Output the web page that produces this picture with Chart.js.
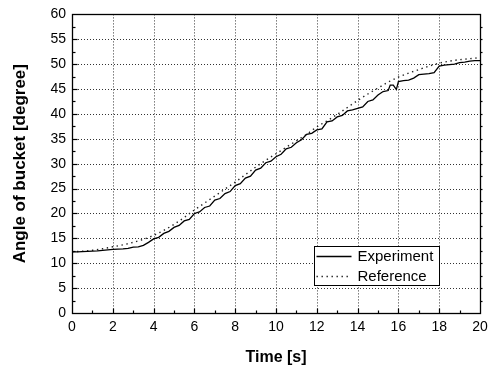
<!DOCTYPE html>
<html>
<head>
<meta charset="utf-8">
<script src="https://cdn.jsdelivr.net/npm/chart.js@4"></script>
<style>
html,body{margin:0;padding:0;background:#fff;}
#wrap{width:498px;height:367px;position:relative;}
</style>
</head>
<body>
<div id="wrap"><canvas id="c" width="498" height="367"></canvas></div>
<script>
// ---- data ----
const expTime = [0,0.25,0.5,0.75,1,1.25,1.5,1.75,2,2.25,2.5,2.75,3,3.25,3.5,3.75,4,4.25,4.5,4.75,5,5.25,5.5,5.75,6,6.25,6.5,6.75,7,7.25,7.5,7.75,8,8.25,8.5,8.75,9,9.25,9.5,9.75,10,10.25,10.5,10.75,11,11.25,11.5,11.75,12,12.25,12.5,12.75,13,13.25,13.5,13.75,14,14.25,14.5,14.75,15,15.25,15.5,15.6,15.75,15.9,16,16.25,16.5,16.75,17,17.25,17.5,17.75,18,18.25,18.5,18.75,19,19.25,19.5,19.75,20];
const expAngle = [12.30,12.30,12.35,12.40,12.45,12.50,12.60,12.70,12.80,12.85,12.90,13.00,13.25,13.30,13.60,14.20,14.90,15.20,16.00,16.40,17.20,17.60,18.50,18.80,20.00,20.30,21.20,21.50,22.70,23.00,24.00,24.40,25.60,26.00,27.10,27.50,28.70,29.10,30.20,30.50,31.40,31.90,33.00,33.30,34.20,34.80,35.90,36.10,36.80,37.00,38.40,38.60,39.40,39.70,40.60,40.80,41.10,41.40,42.50,42.80,43.80,44.50,44.70,45.80,45.80,44.90,46.50,46.70,46.80,47.20,47.90,48.00,48.10,48.30,49.60,49.80,49.90,50.00,50.30,50.40,50.60,50.70,50.70];
const refTime = [0,0.5,1,1.5,2,2.5,3,3.5,4,4.5,5,5.5,6,6.5,7,7.5,8,8.5,9,9.5,10,10.5,11,11.5,12,12.5,13,13.5,14,14.5,15,15.5,16,16.5,17,17.5,18,18.5,19,19.5,20];
const refAngle = [12.3,12.4,12.6,12.9,13.3,13.7,14.2,14.8,15.6,16.6,17.8,19.2,20.7,22.1,23.5,24.9,26.3,27.8,29.3,30.7,32.0,33.3,34.6,35.9,37.4,38.6,39.9,41.3,42.7,44.0,45.2,46.4,47.4,48.2,48.9,49.6,50.2,50.6,50.9,51.1,51.3];
const seriesNames = ["Experiment","Reference"];
const xTitle = "Time [s]";
const yTitle = "Angle of bucket [degree]";

const FONT = "'Liberation Sans', Arial, Helvetica, sans-serif";

const framePlugin = {
  id: 'frame',
  beforeDatasetsDraw(chart) {
    const {ctx, chartArea: a, scales: {x, y}} = chart;
    ctx.save();
    ctx.strokeStyle = '#333';
    ctx.lineWidth = 1;
    ctx.setLineDash([1, 2]);
    for (let v = 2; v < 20; v += 2) {
      const px = Math.round(x.getPixelForValue(v)) + 0.5;
      ctx.beginPath(); ctx.moveTo(px, a.top); ctx.lineTo(px, a.bottom); ctx.stroke();
    }
    for (let v = 5; v < 60; v += 5) {
      const py = Math.round(y.getPixelForValue(v)) + 0.5;
      ctx.beginPath(); ctx.moveTo(a.left, py); ctx.lineTo(a.right, py); ctx.stroke();
    }
    ctx.restore();
  },
  afterDatasetsDraw(chart) {
    const {ctx, chartArea: a, scales: {x, y}} = chart;
    const L = Math.round(a.left) + 0.5, R = Math.round(a.right) + 0.5;
    const T = Math.round(a.top) + 0.5, B = Math.round(a.bottom) + 0.5;
    ctx.save();
    ctx.strokeStyle = '#000';
    ctx.lineWidth = 1.3;
    ctx.setLineDash([]);
    ctx.strokeRect(L, T, R - L, B - T);
    ctx.lineWidth = 1.2;
    // bottom ticks (inward)
    for (let v = 1; v < 20; v += 1) {
      const px = Math.round(x.getPixelForValue(v)) + 0.5;
      const len = (v % 2 === 0) ? 5 : 3;
      ctx.beginPath(); ctx.moveTo(px, B); ctx.lineTo(px, B - len); ctx.stroke();
    }
    // left ticks (inward)
    for (let v = 2.5; v < 60; v += 2.5) {
      const py = Math.round(y.getPixelForValue(v)) + 0.5;
      const len = (v % 5 === 0) ? 5 : 3;
      ctx.beginPath(); ctx.moveTo(L, py); ctx.lineTo(L + len, py); ctx.stroke();
    }
    // right ticks (small, outward)
    for (let v = 2.5; v < 60; v += 2.5) {
      const py = Math.round(y.getPixelForValue(v)) + 0.5;
      ctx.beginPath(); ctx.moveTo(R, py); ctx.lineTo(R + 2, py); ctx.stroke();
    }
    // legend box
    const bx = 314.5, by = 246.5, bw = 125, bh = 39;
    ctx.fillStyle = '#fff';
    ctx.fillRect(bx, by, bw, bh);
    ctx.lineWidth = 1;
    ctx.strokeRect(bx, by, bw, bh);
    const ds = chart.data.datasets;
    const rows = [256, 276];
    ds.forEach((d, i) => {
      ctx.strokeStyle = d.borderColor;
      ctx.lineWidth = d.borderWidth;
      ctx.setLineDash(d.borderDash || []);
      ctx.beginPath(); ctx.moveTo(bx + 2, rows[i] + 0.5); ctx.lineTo(bx + 37, rows[i] + 0.5); ctx.stroke();
      ctx.setLineDash([]);
      ctx.fillStyle = '#000';
      ctx.font = '15px ' + FONT;
      ctx.textBaseline = 'middle';
      ctx.textAlign = 'left';
      ctx.fillText(d.label, bx + 43, rows[i] + 1);
    });
    ctx.restore();
  }
};

new Chart(document.getElementById('c'), {
  type: 'line',
  data: {
    datasets: [
      {
        label: seriesNames[0],
        data: expTime.map((t, i) => ({x: t, y: expAngle[i]})),
        borderColor: '#000',
        borderWidth: 1.3,
        pointRadius: 0,
        tension: 0,
        fill: false
      },
      {
        label: seriesNames[1],
        data: refTime.map((t, i) => ({x: t, y: refAngle[i]})),
        borderColor: '#222',
        borderWidth: 1.4,
        borderDash: [1.4, 3.6],
        pointRadius: 0,
        cubicInterpolationMode: 'monotone',
        fill: false
      }
    ]
  },
  options: {
    responsive: false,
    animation: false,
    devicePixelRatio: 1,
    layout: {padding: {left: 0, right: 18, top: 12, bottom: 0}},
    plugins: {legend: {display: false}, tooltip: {enabled: false}},
    scales: {
      x: {
        type: 'linear', min: 0, max: 20,
        grid: {display: false, drawTicks: false},
        border: {display: false},
        ticks: {stepSize: 2, color: '#000', padding: 6, font: {family: FONT, size: 14}, maxRotation: 0},
        title: {display: true, text: xTitle, color: '#000', font: {family: FONT, size: 16, weight: 'bold'}, padding: {top: 5, bottom: 0}},
        afterFit(s) { s.height = 54; }
      },
      y: {
        type: 'linear', min: 0, max: 60,
        grid: {display: false, drawTicks: false},
        border: {display: false},
        ticks: {stepSize: 5, color: '#000', padding: 6, font: {family: FONT, size: 14}},
        title: {display: true, text: yTitle, color: '#000', font: {family: FONT, size: 17, weight: 'bold'}, padding: {top: 10, bottom: 0}},
        afterFit(s) { s.width = 72; }
      }
    }
  },
  plugins: [framePlugin]
});
</script>
</body>
</html>
